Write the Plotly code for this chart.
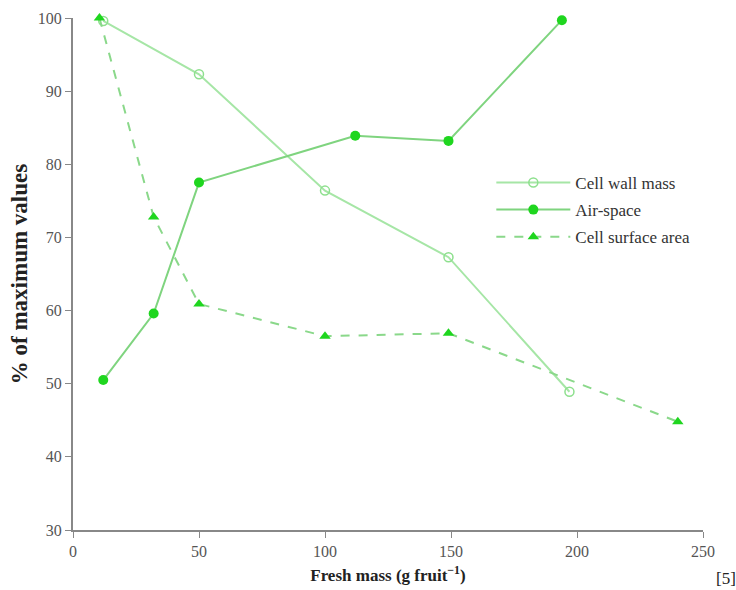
import plotly.graph_objects as go

wall_x = [12, 50, 100, 149, 197]
wall_y = [99.6, 92.3, 76.4, 67.3, 48.9]

air_x = [12, 32, 50, 112, 149, 194]
air_y = [50.5, 59.6, 77.5, 83.9, 83.2, 99.7]

surf_x = [10.5, 32, 50, 100, 149, 240]
surf_y = [100.0, 72.8, 60.9, 56.5, 56.9, 44.8]

series_names = ["Cell wall mass", "Air-space", "Cell surface area"]

x_ticks = [0, 50, 100, 150, 200, 250]
y_ticks = [30, 40, 50, 60, 70, 80, 90, 100]

font_family = "Liberation Serif, Times New Roman, serif"

fig = go.Figure()
fig.add_trace(go.Scatter(
    x=wall_x, y=wall_y, name=series_names[0], mode="lines+markers",
    line=dict(color="#a6e6a6", width=2), legendgroup="a",
    marker=dict(symbol="circle-open", size=9, color="#8ee08e", line=dict(width=1.5)),
    cliponaxis=False,
))
fig.add_trace(go.Scatter(
    x=air_x, y=air_y, name=series_names[1], mode="lines+markers",
    line=dict(color="#7fd47f", width=2), legendgroup="b",
    marker=dict(symbol="circle", size=10, color="#1fd61f"),
    cliponaxis=False,
))
fig.add_trace(go.Scatter(
    x=surf_x, y=surf_y, name=series_names[2], mode="lines+markers",
    line=dict(color="#8ad88a", width=2, dash="dash"), legendgroup="c",
    marker=dict(symbol="triangle-up", size=10, color="#1fd61f"),
    cliponaxis=False,
))

fig.update_layout(
    width=736, height=590,
    margin=dict(l=73, r=33, t=18, b=60, autoexpand=False),
    paper_bgcolor="white", plot_bgcolor="white",
    font=dict(family=font_family, size=16, color="#333"),
    showlegend=True,
    legend=dict(
        x=0.664, y=0.713, xanchor="left", yanchor="top",
        bgcolor="rgba(0,0,0,0)", font=dict(size=17, color="#333"),
        itemwidth=74, tracegroupgap=2,
    ),
    xaxis=dict(
        range=[0, 250], tickvals=x_ticks, ticks="outside", ticklen=6,
        tickcolor="#888", showline=True, linecolor="#888", linewidth=2,
        showgrid=False, zeroline=False, automargin=False,
        tickfont=dict(size=16, color="#555"),
        title=dict(text="<b>Fresh mass (g fruit<sup>−1</sup>)</b>", font=dict(size=17, color="#222"), standoff=10),
    ),
    yaxis=dict(
        range=[30, 100], tickvals=y_ticks, ticks="outside", ticklen=6,
        tickcolor="#888", showline=True, linecolor="#888", linewidth=2,
        showgrid=False, zeroline=False, automargin=False,
        tickfont=dict(size=16, color="#555"),
        title=dict(text="<b>% of maximum values</b>", font=dict(size=23, color="#222"), standoff=4),
    ),
    annotations=[dict(
        text="[5]", xref="paper", yref="paper", x=1.056, y=-0.094,
        xanchor="right", yanchor="middle", showarrow=False,
        font=dict(size=17, color="#222"),
    )],
)

fig.write_html(
    "out.html",
    config={"displayModeBar": False},
    post_script="document.body.style.margin='0';document.body.style.overflow='hidden';",
)
